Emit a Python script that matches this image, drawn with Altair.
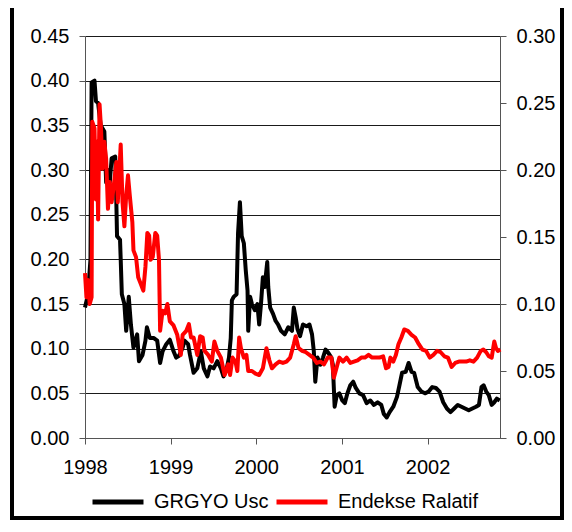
import altair as alt
import pandas as pd

# Offsets in years from 1 Jan 1998
black_t = [0.000, 0.034, 0.064, 0.077, 0.111, 0.128, 0.153, 0.183, 0.226, 0.247, 0.268, 0.289,
           0.311, 0.353, 0.366, 0.374, 0.409, 0.417, 0.430, 0.460, 0.481, 0.511, 0.536, 0.566,
           0.609, 0.630, 0.672, 0.706, 0.723, 0.757, 0.800, 0.843, 0.877, 0.906, 0.949, 0.991,
           1.034, 1.064, 1.098, 1.140, 1.162, 1.204, 1.226, 1.268, 1.311, 1.353, 1.387, 1.430,
           1.460, 1.502, 1.545, 1.587, 1.617, 1.651, 1.681, 1.702, 1.715, 1.736, 1.770, 1.787,
           1.809, 1.830, 1.855, 1.877, 1.898, 1.906, 1.928, 1.949, 1.983, 2.013, 2.034, 2.055,
           2.077, 2.098, 2.128, 2.140, 2.162, 2.196, 2.226, 2.255, 2.289, 2.332, 2.374, 2.417,
           2.438, 2.460, 2.481, 2.511, 2.545, 2.587, 2.621, 2.651, 2.672, 2.689, 2.715, 2.749,
           2.779, 2.809, 2.843, 2.877, 2.894, 2.915, 2.940, 2.970, 3.004, 3.034, 3.064, 3.098,
           3.132, 3.162, 3.204, 3.247, 3.289, 3.332, 3.374, 3.417, 3.460, 3.489, 3.523, 3.557,
           3.600, 3.643, 3.672, 3.702, 3.745, 3.779, 3.813, 3.843, 3.885, 3.928, 3.970, 4.013,
           4.055, 4.098, 4.140, 4.183, 4.226, 4.268, 4.311, 4.353, 4.396, 4.438, 4.481, 4.523,
           4.566, 4.600, 4.630, 4.655, 4.685, 4.715, 4.749, 4.779, 4.809, 4.843]
black_v = [0.146, 0.160, 0.200, 0.398, 0.400, 0.377, 0.375, 0.350, 0.343, 0.286, 0.300, 0.286,
           0.313, 0.315, 0.264, 0.226, 0.222, 0.200, 0.161, 0.150, 0.120, 0.158, 0.127, 0.101,
           0.116, 0.086, 0.093, 0.109, 0.124, 0.112, 0.112, 0.109, 0.084, 0.097, 0.105, 0.110,
           0.097, 0.090, 0.092, 0.101, 0.109, 0.105, 0.093, 0.073, 0.078, 0.097, 0.078, 0.069,
           0.080, 0.078, 0.086, 0.078, 0.069, 0.076, 0.090, 0.112, 0.154, 0.158, 0.161, 0.229,
           0.264, 0.226, 0.218, 0.188, 0.165, 0.120, 0.158, 0.150, 0.143, 0.150, 0.127, 0.150,
           0.180, 0.169, 0.197, 0.169, 0.146, 0.139, 0.131, 0.127, 0.120, 0.116, 0.124, 0.120,
           0.146, 0.135, 0.122, 0.114, 0.127, 0.125, 0.127, 0.116, 0.097, 0.063, 0.090, 0.082,
           0.090, 0.099, 0.095, 0.090, 0.082, 0.035, 0.048, 0.050, 0.042, 0.039, 0.050, 0.059,
           0.063, 0.056, 0.050, 0.048, 0.039, 0.042, 0.037, 0.040, 0.037, 0.027, 0.023, 0.029,
           0.035, 0.046, 0.059, 0.073, 0.074, 0.084, 0.074, 0.073, 0.057, 0.052, 0.050, 0.052,
           0.057, 0.056, 0.052, 0.040, 0.033, 0.029, 0.033, 0.037, 0.035, 0.033, 0.031, 0.033,
           0.035, 0.037, 0.057, 0.059, 0.052, 0.048, 0.037, 0.040, 0.044, 0.042]

red_t = [0.000, 0.017, 0.034, 0.055, 0.077, 0.085, 0.111, 0.128, 0.140, 0.153, 0.170, 0.187,
         0.204, 0.226, 0.247, 0.268, 0.289, 0.311, 0.332, 0.366, 0.383, 0.417, 0.438, 0.460,
         0.481, 0.502, 0.523, 0.553, 0.566, 0.596, 0.621, 0.651, 0.681, 0.706, 0.728, 0.749,
         0.766, 0.791, 0.821, 0.843, 0.864, 0.877, 0.906, 0.936, 0.962, 0.991, 1.034, 1.077,
         1.119, 1.140, 1.183, 1.213, 1.238, 1.268, 1.311, 1.345, 1.374, 1.396, 1.438, 1.481,
         1.511, 1.545, 1.587, 1.630, 1.672, 1.694, 1.723, 1.757, 1.779, 1.800, 1.821, 1.855,
         1.885, 1.906, 1.949, 1.991, 2.034, 2.077, 2.119, 2.153, 2.183, 2.226, 2.268, 2.311,
         2.353, 2.396, 2.438, 2.460, 2.494, 2.536, 2.579, 2.621, 2.664, 2.706, 2.749, 2.791,
         2.834, 2.877, 2.906, 2.936, 2.970, 3.013, 3.055, 3.098, 3.140, 3.183, 3.226, 3.268,
         3.311, 3.353, 3.396, 3.438, 3.481, 3.515, 3.545, 3.566, 3.600, 3.630, 3.660, 3.694,
         3.728, 3.770, 3.813, 3.855, 3.898, 3.940, 3.983, 4.026, 4.068, 4.111, 4.153, 4.196,
         4.238, 4.281, 4.323, 4.366, 4.409, 4.451, 4.494, 4.536, 4.579, 4.621, 4.651, 4.685,
         4.715, 4.749, 4.779, 4.800, 4.821, 4.851]
red_v = [0.123, 0.105, 0.118, 0.100, 0.105, 0.236, 0.231, 0.178, 0.221, 0.163, 0.249, 0.231,
         0.201, 0.221, 0.208, 0.171, 0.191, 0.176, 0.186, 0.206, 0.176, 0.219, 0.176, 0.158,
         0.181, 0.196, 0.181, 0.161, 0.140, 0.135, 0.120, 0.115, 0.110, 0.128, 0.153, 0.151,
         0.133, 0.135, 0.153, 0.151, 0.133, 0.080, 0.095, 0.093, 0.100, 0.087, 0.084, 0.077,
         0.062, 0.077, 0.080, 0.085, 0.075, 0.075, 0.062, 0.076, 0.075, 0.065, 0.062, 0.057,
         0.072, 0.065, 0.060, 0.047, 0.055, 0.047, 0.060, 0.057, 0.050, 0.075, 0.067, 0.060,
         0.062, 0.050, 0.050, 0.048, 0.047, 0.052, 0.067, 0.058, 0.052, 0.055, 0.057, 0.056,
         0.057, 0.060, 0.070, 0.076, 0.067, 0.065, 0.064, 0.062, 0.060, 0.056, 0.057, 0.055,
         0.060, 0.060, 0.045, 0.052, 0.060, 0.057, 0.060, 0.056, 0.057, 0.058, 0.060, 0.060,
         0.062, 0.060, 0.060, 0.060, 0.061, 0.052, 0.053, 0.060, 0.057, 0.062, 0.070, 0.075,
         0.081, 0.080, 0.077, 0.075, 0.070, 0.066, 0.065, 0.060, 0.062, 0.065, 0.064, 0.061,
         0.060, 0.053, 0.056, 0.057, 0.057, 0.057, 0.058, 0.057, 0.060, 0.065, 0.066, 0.064,
         0.061, 0.060, 0.072, 0.067, 0.065, 0.066]

series_names = ["GRGYO Usc", "Endekse Ralatif"]
series_colors = ["#000000", "#ff0000"]
left_ticks = [0.00, 0.05, 0.10, 0.15, 0.20, 0.25, 0.30, 0.35, 0.40, 0.45]
right_ticks = [0.00, 0.05, 0.10, 0.15, 0.20, 0.25, 0.30]
years = [1998, 1999, 2000, 2001, 2002]

start = pd.Timestamp("1998-01-01")


def to_date(t):
    return (start + pd.to_timedelta(t * 365.25, unit="D")).strftime("%Y-%m-%dT%H:%M:%S")


df_black = pd.DataFrame({"date": [to_date(t) for t in black_t], "value": black_v,
                         "series": series_names[0], "order": range(len(black_t))})
df_red = pd.DataFrame({"date": [to_date(t) for t in red_t], "value": red_v,
                       "series": series_names[1], "order": range(len(red_t))})

FONT = "Liberation Sans"
FS = 20

x_enc = alt.X(
    "date:T",
    title=None,
    scale=alt.Scale(domain=[alt.DateTime(year=1998, month=1, date=1),
                            alt.DateTime(year=2002, month=11, date=6)]),
    axis=alt.Axis(values=[alt.DateTime(year=y, month=1, date=1) for y in years],
                  format="%Y", grid=False, tickSize=6, labelPadding=13,
                  labelFontSize=FS, labelFont=FONT, labelColor="#000000",
                  domainColor="#555555", tickColor="#555555", labelFlush=False),
)

color_enc = alt.Color(
    "series:N", title=None,
    scale=alt.Scale(domain=series_names, range=series_colors),
    legend=alt.Legend(orient="none", legendX=5, legendY=438, direction="horizontal",
                      symbolType="stroke", symbolSize=2600, symbolStrokeWidth=5,
                      labelFontSize=FS, labelFont=FONT, labelColor="#000000",
                      labelOffset=8, columnPadding=-3, padding=0, gridAlign="none"),
)

black_line = alt.Chart(df_black).mark_line(strokeWidth=4, strokeJoin="round").encode(
    x=x_enc,
    y=alt.Y("value:Q", title=None,
            scale=alt.Scale(domain=[0, 0.45], nice=False, zero=True),
            axis=alt.Axis(values=left_ticks, format=".2f", grid=True, gridColor="#1a1a1a",
                          gridWidth=1, tickSize=6, labelPadding=10, labelFontSize=FS,
                          labelFont=FONT, labelColor="#000000", domainColor="#555555",
                          tickColor="#555555")),
    color=color_enc,
    order="order:Q",
)

red_line = alt.Chart(df_red).mark_line(strokeWidth=4, strokeJoin="round").encode(
    x=x_enc,
    y=alt.Y("value:Q", title=None,
            scale=alt.Scale(domain=[0, 0.30], nice=False, zero=True),
            axis=alt.Axis(orient="right", values=right_ticks, format=".2f", grid=False,
                          tickSize=6, labelPadding=10, labelFontSize=FS, labelFont=FONT,
                          labelColor="#000000", domainColor="#555555",
                          tickColor="#555555")),
    color=color_enc,
    order="order:Q",
)

frame = alt.Chart(pd.DataFrame({"k": [0]})).mark_rect(
    fill="transparent", stroke="#000000", strokeWidth=4
).encode(
    x=alt.value(-73), x2=alt.value(477), y=alt.value(-30), y2=alt.value(482)
)

chart = alt.layer(black_line, red_line, frame).resolve_scale(
    y="independent"
).properties(
    width=415, height=402,
    padding={"left": 77, "top": 28, "right": 64, "bottom": 82},
    autosize=alt.AutoSizeParams(type="none"),
    background="#ffffff",
).configure_view(stroke="transparent")

chart.save("out.html", embed_options={"renderer": "svg", "actions": False})
